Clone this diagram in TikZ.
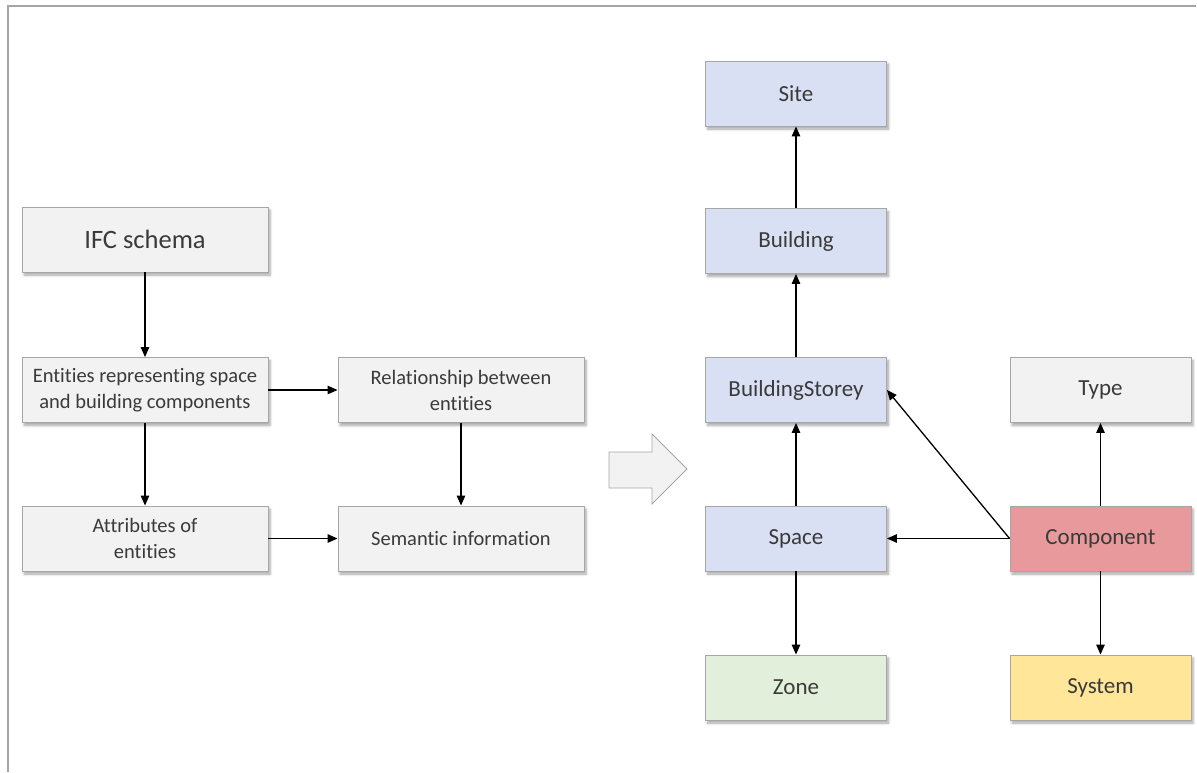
\documentclass[tikz,border=0pt]{standalone}
\usepackage{fontspec}
\setmainfont{Carlito}[Ligatures={NoCommon}]
\usetikzlibrary{arrows.meta,shadows.blur}

\definecolor{boxgray}{HTML}{F2F2F2}
\definecolor{boxblue}{HTML}{DAE0F3}
\definecolor{boxred}{HTML}{E8999B}
\definecolor{boxgreen}{HTML}{E2EFDA}
\definecolor{boxyellow}{HTML}{FFE699}
\definecolor{edgegray}{HTML}{A6A6A6}
\definecolor{framegray}{HTML}{A9A5A7}
\definecolor{textgray}{HTML}{3A3A3A}

\tikzset{
  box/.style={draw=edgegray, line width=0.9pt, fill=boxgray, text=textgray,
    align=center, inner sep=2pt,
    blur shadow={shadow xshift=2pt, shadow yshift=-3pt, shadow blur steps=6,
                 shadow blur radius=2.5pt, shadow opacity=35}},
  leftbox/.style={box, minimum width=246pt, minimum height=65pt,
    font=\fontsize{20.5}{26}\selectfont},
  rightbox/.style={box, minimum width=181pt, minimum height=65pt,
    font=\fontsize{23}{28}\selectfont},
  link/.style={-{Triangle[length=10pt,width=8.5pt]}, line width=1.3pt, black}
}

\begin{document}
\begin{tikzpicture}[x=1pt,y=-1pt]
\useasboundingbox (0,0) rectangle (1197,772);

% outer frame lines
\draw[framegray, line width=2pt] (7,6) -- (1196,6);
\draw[framegray, line width=2pt] (8,6) -- (8,772);

% left flow: from the schema to semantic information
\node[leftbox, font=\fontsize{26.5}{30}\selectfont] (ifc) at (145,239.5) {IFC schema};
\node[leftbox] (ent) at (145,390) {Entities representing space\\and building components};
\node[leftbox] (rel) at (461,390) {Relationship between\\entities};
\node[leftbox] (att) at (145,538.5) {Attributes of\\entities};
\node[leftbox] (sem) at (461,538.5) {Semantic information};

\draw[link] (ifc) -- (ent);
\draw[link] (ent) -- (rel);
\draw[link] (ent) -- (att);
\draw[link] (rel) -- (sem);
\draw[link] (att) -- (sem);

% block arrow between the two parts
\draw[edgegray, line width=0.9pt, fill=boxgray]
  (609,452) -- (652,452) -- (652,434) -- (687,469) -- (652,504)
  -- (652,488) -- (609,488) -- cycle;

% right part: spatial hierarchy and component relations
\node[rightbox, fill=boxblue] (site) at (796,93.5) {Site};
\node[rightbox, fill=boxblue] (bld) at (796,241) {Building};
\node[rightbox, fill=boxblue] (sto) at (796,390) {BuildingStorey};
\node[rightbox, fill=boxblue] (spc) at (796,538.5) {Space};
\node[rightbox, fill=boxgreen] (zone) at (796,687.5) {Zone};
\node[rightbox] (type) at (1100.5,390) {Type};
\node[rightbox, fill=boxred] (comp) at (1100.5,538.5) {Component};
\node[rightbox, fill=boxyellow] (sys) at (1100.5,687.5) {System};

\draw[link] (bld) -- (site);
\draw[link] (sto) -- (bld);
\draw[link] (spc) -- (sto);
\draw[link] (spc) -- (zone);
\draw[link] (comp) -- (type);
\draw[link] (comp) -- (sys);
\draw[link] (comp.west) -- (spc.east);
\draw[link] (comp.west) -- (sto.east);
\end{tikzpicture}
\end{document}
